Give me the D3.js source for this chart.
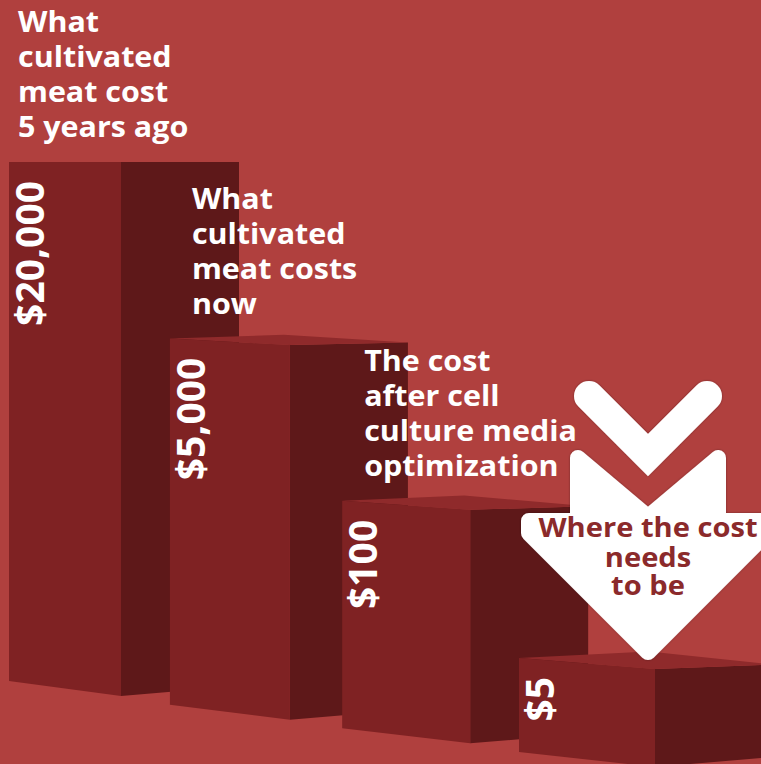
<!DOCTYPE html>
<html lang="en">
<head>
    <meta charset="UTF-8">
    <title>Cultivated meat cost</title>
    <script src="https://d3js.org/d3.v7.min.js"></script>
    <style>
        body { margin: 0; background: #B0403E; }
        svg { display: block; }
        .caption { font-family: "Open Sans", sans-serif; font-weight: 700; font-size: 29px; fill: #fff; }
        .value { font-family: "Open Sans", sans-serif; font-weight: 700; font-size: 39px; fill: #fff; }
        .target { font-family: "Open Sans", sans-serif; font-weight: 700; font-size: 26px; fill: #8B2A2B; }
    </style>
</head>
<body>
    <svg width="761" height="764"></svg>
    <script>
        // stages of the cost curve, left to right
        const stages = ["5 years ago", "Now", "After media optimization", "Target"];
        const costs = [20000, 5000, 100, 5];
        const captions = [
            ["What", "cultivated", "meat cost", "5 years ago"],
            ["What", "cultivated", "meat costs", "now"],
            ["The cost", "after cell", "culture media", "optimization"],
            []
        ];
        const targetCaption = ["Where the cost", "needs", "to be"];

        const width = 761, height = 764;
        const n = stages.length;
        const idx = d3.range(n);

        const colors = { bg: "#B0403E", front: "#7F2223", side: "#5E1819", top: "#8F2A2B" };

        const svg = d3.select("svg");
        svg.append("rect").attr("width", width).attr("height", height).attr("fill", colors.bg);

        // the boxes are illustrative steps, placed by rank with a bit of perspective
        const xPos = d3.scalePow().exponent(1.05).domain([0, n - 1]).range([9, 519]);
        const yTop = d3.scalePow().exponent(0.94).domain([0, n - 1]).range([162, 658]);
        const yBottom = d3.scaleLinear().domain([0, n - 1]).range([681, 752]);
        const frontW = d3.scaleLinear().domain([0, n - 1]).range([112, 136]);
        const drop = d3.scaleSqrt().domain([0, n - 1]).range([0, 11]);
        const sideW = 118;

        const boxes = idx.map(i => {
            const x0 = xPos(i), x1 = x0 + frontW(i), x2 = x1 + sideW;
            const t = yTop(i), b = yBottom(i), dr = drop(i), rise = dr * 0.4;
            return {
                i, x0, x1, x2, t, b,
                front: [[x0, t], [x1, t + dr], [x1, b + 15], [x0, b]],
                side: [[x1, t + dr], [x2, t + dr - rise], [x2, b + 5], [x1, b + 15]],
                lid: [[x0, t], [x1 - 6, t - dr * 0.6], [x2, t + dr - rise], [x1, t + dr]]
            };
        });

        const poly = pts => "M" + pts.map(p => p.join(",")).join("L") + "Z";

        const g = svg.selectAll(".box")
            .data(boxes)
            .enter().append("g")
            .attr("class", "box");
        g.append("path").attr("d", d => poly(d.side)).attr("fill", colors.side);
        g.append("path").attr("d", d => poly(d.lid)).attr("fill", colors.top);
        g.append("path").attr("d", d => poly(d.front)).attr("fill", colors.front);

        // cost labels, rotated, reading upwards
        const fmt = d3.format("$,");
        g.append("text")
            .attr("class", "value")
            .attr("text-anchor", "end")
            .attr("transform", d => `translate(${d.x0 + 35},${d.t + 19}) rotate(-90)`)
            .text(d => fmt(costs[d.i]));

        // captions above each box
        svg.selectAll(".caption")
            .data(boxes.filter(d => captions[d.i].length))
            .enter().append("text")
            .attr("class", "caption")
            .attr("transform", d => `translate(${d.x0 + (d.i === 0 ? 9 : 22)},${d.t - 130}) scale(1.05,1)`)
            .selectAll("tspan")
            .data(d => captions[d.i])
            .enter().append("tspan")
            .attr("x", 0)
            .attr("dy", (d, k) => k === 0 ? 0 : 35)
            .text(d => d);

        // target arrow pointing at the last box
        const last = boxes[n - 1];
        const cx = last.x1 - 7, tipY = last.t + 5;

        const defs = svg.append("defs");
        defs.append("filter").attr("id", "shadow")
            .attr("x", "-20%").attr("y", "-20%").attr("width", "140%").attr("height", "140%")
            .append("feDropShadow")
            .attr("dx", 0).attr("dy", 0).attr("stdDeviation", 1.3)
            .attr("flood-color", "#000").attr("flood-opacity", 0.35);

        const arrow = svg.append("g")
            .attr("transform", `translate(${cx},${tipY})`)
            .attr("filter", "url(#shadow)");

        arrow.append("path")
            .attr("d", d3.line()([[-59, -267], [0, -208], [59, -267]]))
            .attr("fill", "none")
            .attr("stroke", "#fff")
            .attr("stroke-width", 30)
            .attr("stroke-linecap", "round")
            .attr("stroke-linejoin", "miter");

        const head = [[-70, -205], [0, -146], [70, -205], [70, -142], [119, -142], [119, -130],
                      [0, -11], [-119, -130], [-119, -142], [-70, -142]];
        arrow.append("path")
            .attr("d", poly(head))
            .attr("fill", "#fff")
            .attr("stroke", "#fff")
            .attr("stroke-width", 16)
            .attr("stroke-linejoin", "round");

        svg.append("text")
            .attr("class", "target")
            .attr("text-anchor", "middle")
            .attr("transform", `translate(${cx},${tipY - 126}) scale(1.12,1)`)
            .selectAll("tspan")
            .data(targetCaption)
            .enter().append("tspan")
            .attr("x", 0)
            .attr("dy", (d, k) => k === 0 ? 0 : (k === 1 ? 30 : 28))
            .text(d => d);
    </script>
</body>
</html>
